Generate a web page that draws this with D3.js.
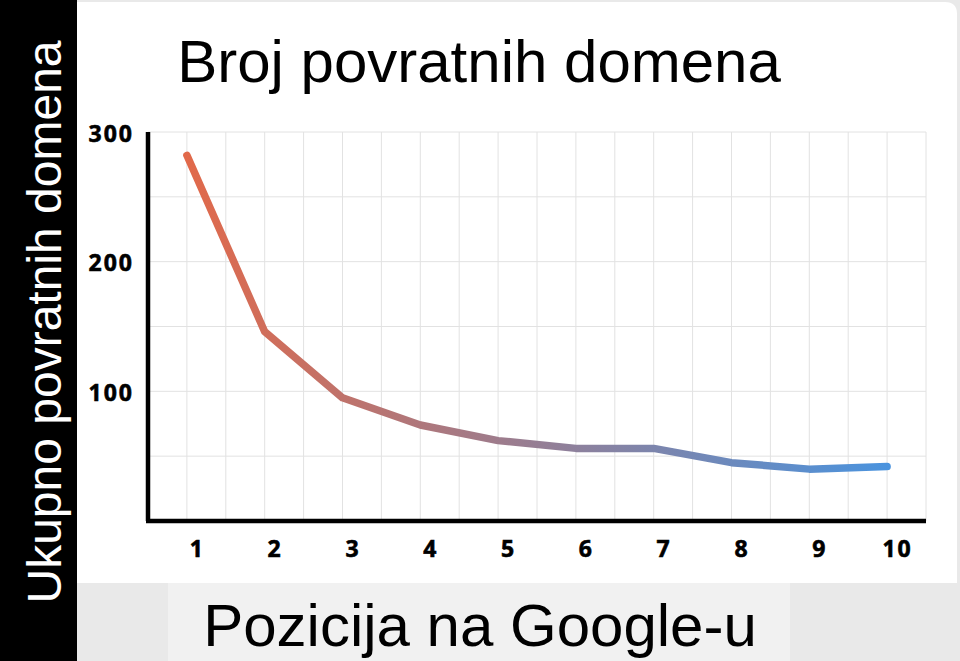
<!DOCTYPE html>
<html>
<head>
<meta charset="utf-8">
<script src="https://cdn.jsdelivr.net/npm/d3@7"></script>
<style>
  html, body { margin: 0; padding: 0; background: #e8e8e8; }
  svg { display: block; }
</style>
</head>
<body>
<div id="chart"></div>
<script>
// chart data
var positions = [1, 2, 3, 4, 5, 6, 7, 8, 9, 10];
var domains = [282, 146, 95, 74, 62, 56, 56, 45, 40, 42];
var yTicks = [100, 200, 300];
var yGrid = [50, 100, 150, 200, 250, 300];
var xGrid = [1, 1.5, 2, 2.5, 3, 3.5, 4, 4.5, 5, 5.5, 6, 6.5, 7, 7.5, 8, 8.5, 9, 9.5, 10, 10.5];

var titleText = "Broj povratnih domena";
var xLabelText = "Pozicija na Google-u";
var yLabelText = "Ukupno povratnih domena";

var width = 960, height = 661;

var svg = d3.select("#chart")
    .append("svg")
    .attr("width", width)
    .attr("height", height);

// background pieces
svg.append("rect")
    .attr("x", 0).attr("y", 0)
    .attr("width", width).attr("height", height)
    .attr("fill", "#e9e9e9");

svg.append("rect")
    .attr("x", 168).attr("y", 583)
    .attr("width", 622).attr("height", 78)
    .attr("fill", "#f1f1f1");

// white card (rounded on the right)
svg.append("path")
    .attr("d", "M77,2 H945 Q957,2 957,14 V583 H77 Z")
    .attr("fill", "#ffffff");

// black band with the y label
svg.append("rect")
    .attr("x", 0).attr("y", 0)
    .attr("width", 77).attr("height", height)
    .attr("fill", "#000000");

// scales
var x = d3.scaleLinear().domain([0.5, 10.5]).range([148, 926]);
var y = d3.scaleLinear().domain([0, 300]).range([521, 132]);

// grid
svg.append("g")
    .selectAll("line")
    .data(xGrid)
    .join("line")
    .attr("x1", function(d) { return x(d); })
    .attr("x2", function(d) { return x(d); })
    .attr("y1", y(300))
    .attr("y2", y(0))
    .attr("stroke", "#e2e2e2")
    .attr("stroke-width", 1);

svg.append("g")
    .selectAll("line")
    .data(yGrid)
    .join("line")
    .attr("x1", x(0.5))
    .attr("x2", x(10.5))
    .attr("y1", function(d) { return y(d); })
    .attr("y2", function(d) { return y(d); })
    .attr("stroke", "#e2e2e2")
    .attr("stroke-width", 1);

// gradient for the line
var grad = svg.append("defs")
    .append("linearGradient")
    .attr("id", "lineGrad")
    .attr("gradientUnits", "userSpaceOnUse")
    .attr("x1", x(1)).attr("y1", 0)
    .attr("x2", x(10)).attr("y2", 0);
grad.append("stop").attr("offset", "0%").attr("stop-color", "#e1694a");
grad.append("stop").attr("offset", "100%").attr("stop-color", "#4a93de");

var line = d3.line()
    .x(function(d, i) { return x(positions[i]); })
    .y(function(d) { return y(d); });

svg.append("path")
    .datum(domains)
    .attr("d", line)
    .attr("fill", "none")
    .attr("stroke", "url(#lineGrad)")
    .attr("stroke-width", 7.5)
    .attr("stroke-linecap", "round")
    .attr("stroke-linejoin", "round");

// axes
var xAxis = svg.append("g")
    .attr("transform", "translate(0," + y(0) + ")")
    .call(d3.axisBottom(x).tickValues(positions).tickSize(0).tickSizeOuter(0).tickPadding(20));

xAxis.select(".domain")
    .attr("stroke", "#000")
    .attr("stroke-width", 4.5)
    .attr("d", "M" + (x(0.5) - 2) + ",0H" + x(10.5));

xAxis.selectAll("text")
    .attr("dx", 10);

var yAxis = svg.append("g")
    .attr("transform", "translate(" + x(0.5) + ",0)")
    .call(d3.axisLeft(y).tickValues(yTicks).tickSize(0).tickSizeOuter(0).tickPadding(14));

yAxis.select(".domain")
    .attr("stroke", "#000")
    .attr("stroke-width", 4.5)
    .attr("d", "M0," + y(300) + "V" + y(0));

yAxis.selectAll("text")
    .attr("dy", "0.4em");

svg.selectAll(".tick text")
    .attr("font-family", "'Open Sans', sans-serif")
    .attr("font-weight", "bold")
    .attr("font-size", 23)
    .attr("letter-spacing", 2)
    .attr("stroke", "#000")
    .attr("stroke-width", 0.6)
    .attr("fill", "#000");

// titles
svg.append("text")
    .attr("x", 479)
    .attr("y", 82)
    .attr("text-anchor", "middle")
    .attr("font-family", "'Liberation Sans', Arial, sans-serif")
    .attr("font-size", 60)
    .attr("fill", "#000")
    .text(titleText);

svg.append("text")
    .attr("x", 480)
    .attr("y", 646)
    .attr("text-anchor", "middle")
    .attr("font-family", "'Liberation Sans', Arial, sans-serif")
    .attr("font-size", 60)
    .attr("fill", "#000")
    .text(xLabelText);

svg.append("text")
    .attr("transform", "translate(61,322) rotate(-90)")
    .attr("text-anchor", "middle")
    .attr("font-family", "'Liberation Sans', Arial, sans-serif")
    .attr("font-size", 48)
    .attr("fill", "#fff")
    .text(yLabelText);
</script>
</body>
</html>
